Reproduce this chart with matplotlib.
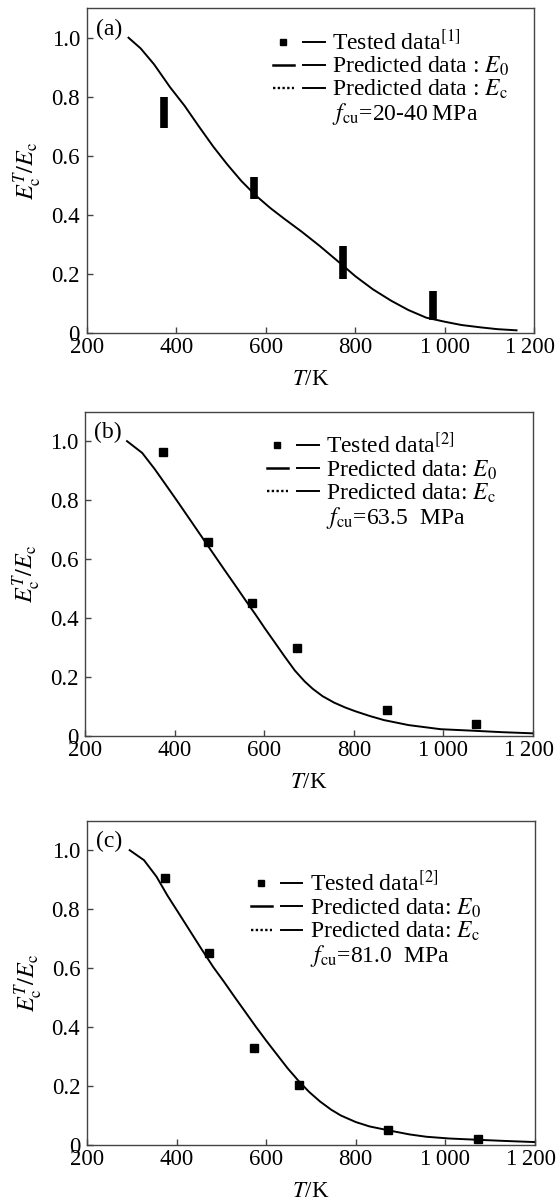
import matplotlib
matplotlib.use("Agg")
import matplotlib.pyplot as plt
from matplotlib.lines import Line2D
from matplotlib.legend_handler import HandlerTuple
from matplotlib.transforms import ScaledTranslation

# curves (predicted)
T_A = [293, 320, 350, 386, 418, 450, 482, 513, 545, 577, 610, 640, 680, 720, 767, 800, 839,
       879, 918, 958, 1000, 1037, 1080, 1117, 1160]
E_A = [1.0, 0.964, 0.91, 0.832, 0.77, 0.70, 0.632, 0.572, 0.515, 0.466, 0.423, 0.388, 0.343, 0.295,
       0.235, 0.192, 0.148, 0.110, 0.078, 0.052, 0.038, 0.027, 0.019, 0.013, 0.009]

T_B = [293, 327, 355, 382, 406, 430, 458, 486, 510, 533, 557, 581, 601, 621, 645, 668, 690, 708,
       730, 756, 780, 803, 835, 867, 922, 994, 1065, 1130, 1200]
E_B = [1.0, 0.96, 0.905, 0.847, 0.795, 0.742, 0.680, 0.618, 0.565, 0.515, 0.462, 0.410, 0.365,
       0.322, 0.270, 0.222, 0.185, 0.160, 0.135, 0.113, 0.097, 0.084, 0.068, 0.054, 0.037, 0.023,
       0.018, 0.013, 0.009]

T_C = [295, 327, 355, 379, 403, 426, 454, 482, 506, 529, 553, 577, 601, 625, 648, 672, 696, 720,
       745, 767, 800, 831, 879, 920, 958, 1010, 1069, 1130, 1200]
E_C = [1.0, 0.966, 0.91, 0.847, 0.79, 0.735, 0.668, 0.603, 0.553, 0.503, 0.452, 0.401, 0.352, 0.305,
       0.260, 0.218, 0.180, 0.148, 0.120, 0.100, 0.078, 0.063, 0.048, 0.036, 0.028, 0.022, 0.018,
       0.014, 0.010]

# tested data
TEST_T_A = [373, 573, 773, 973]
TEST_LO_A = [0.695, 0.455, 0.184, 0.043]
TEST_HI_A = [0.80, 0.529, 0.295, 0.141]

TEST_T = [373, 473, 573, 673, 873, 1073]
TEST_E_B = [0.963, 0.657, 0.451, 0.300, 0.088, 0.041]
TEST_E_C = [0.904, 0.652, 0.330, 0.203, 0.051, 0.019]

X_TICKS = [200, 400, 600, 800, 1000, 1200]
X_LABELS = ["200", "400", "600", "800", "1\u2009000", "1\u2009200"]
Y_TICKS = [0, 0.2, 0.4, 0.6, 0.8, 1.0]
Y_LABELS = ["0", "0.2", "0.4", "0.6", "0.8", "1.0"]

plt.rcParams["font.family"] = ["Liberation Serif", "DejaVu Serif"]
plt.rcParams["mathtext.fontset"] = "stix"

SPINE = "#444444"
FS = 16.5


def style_axes(fig, ax, tag):
    ax.set_xlim(200, 1200)
    ax.set_ylim(0, 1.1)
    ax.set_xticks(X_TICKS)
    ax.set_xticklabels(X_LABELS)
    ax.set_yticks(Y_TICKS)
    ax.set_yticklabels(Y_LABELS)
    ax.tick_params(direction="in", length=4, width=1, color=SPINE, labelsize=FS)
    ax.tick_params(axis="x", pad=3)
    ax.tick_params(axis="y", pad=5)
    # last x label sits right at the figure edge, nudge it in a little
    last = ax.get_xticklabels()[-1]
    last.set_transform(last.get_transform() + ScaledTranslation(-3 / 72, 0, fig.dpi_scale_trans))
    for s in ax.spines.values():
        s.set_color(SPINE)
        s.set_linewidth(1.0)
    ax.set_xlabel("$T$/K", fontsize=FS, labelpad=8)
    ax.set_ylabel(r"$E_\mathrm{c}^{T}/E_\mathrm{c}$", fontsize=17.5, labelpad=5)
    ax.text(0.02, 0.935, tag, transform=ax.transAxes, fontsize=17, va="center", ha="left")


def add_legend(ax, ref, sep, fcu, anchor):
    sq = Line2D([], [], color="black", marker="s", ms=5, ls="none")
    solid = Line2D([], [], color="black", lw=1.4)
    dash = Line2D([], [], color="black", lw=1.8)
    dots = Line2D([], [], color="black", lw=1.7, ls=(0, (1.0, 1.0)))
    blank = Line2D([], [], color="none")
    handles = [(sq, solid), (dash, solid), (dots, solid), blank]
    labels = [
        "Tested data$^{[%d]}$" % ref,
        "Predicted data%s: $E_0$" % sep,
        r"Predicted data%s: $E_\mathrm{c}$" % sep,
        r"$f_\mathrm{cu}$=%s" % fcu,
    ]
    ax.legend(handles, labels, handler_map={tuple: HandlerTuple(ndivide=None, pad=0.4)},
              loc="upper left", bbox_to_anchor=anchor, frameon=False, fontsize=17,
              handlelength=2.2, handletextpad=0.3, labelspacing=0.0,
              borderpad=0, borderaxespad=0)


def main():
    fig = plt.figure(figsize=(5.57, 12.03), dpi=100)
    ax_a = fig.add_axes([0.156, 0.7232, 0.8035, 0.27])
    ax_b = fig.add_axes([0.1533, 0.3882, 0.8035, 0.2696])
    ax_c = fig.add_axes([0.1565, 0.0482, 0.8035, 0.2696])

    # (a)
    ax_a.plot(T_A, E_A, color="black", lw=1.4)
    ax_a.vlines(TEST_T_A, TEST_LO_A, TEST_HI_A, color="black", lw=5.5)
    style_axes(fig, ax_a, "(a)")
    add_legend(ax_a, 1, " ", "20-40\u2009MPa", (0.415, 0.935))

    # (b)
    ax_b.plot(T_B, E_B, color="black", lw=1.4)
    ax_b.plot(TEST_T, TEST_E_B, ls="none", marker="s", ms=5.5, color="black")
    style_axes(fig, ax_b, "(b)")
    add_legend(ax_b, 2, "", "63.5  MPa", (0.405, 0.935))

    # (c)
    ax_c.plot(T_C, E_C, color="black", lw=1.4)
    ax_c.plot(TEST_T, TEST_E_C, ls="none", marker="s", ms=5.5, color="black")
    style_axes(fig, ax_c, "(c)")
    add_legend(ax_c, 2, "", "81.0  MPa", (0.365, 0.845))

    fig.savefig("out.png", dpi=100)


if __name__ == "__main__":
    main()
